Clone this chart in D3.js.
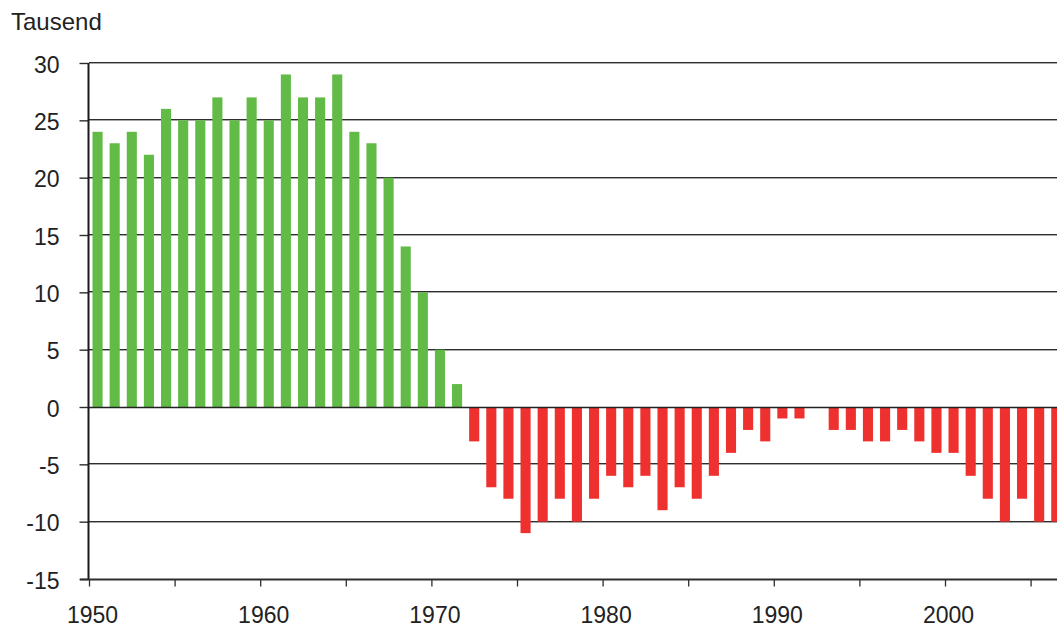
<!DOCTYPE html>
<html>
<head>
<meta charset="utf-8">
<script src="https://cdnjs.cloudflare.com/ajax/libs/d3/7.8.5/d3.min.js"></script>
<style>
  html, body { margin: 0; padding: 0; background: #fff; }
  svg { display: block; font-family: "Liberation Sans", Arial, sans-serif; }
  .tick text { font-size: 23px; fill: #222; }
</style>
</head>
<body>
<div id="chart"></div>
<script>
// data (Tausend), one value per year 1950 - 2006
const years = d3.range(1950, 2007);
const values = [
  24, 23, 24, 22, 26, 25, 25, 27, 25, 27,
  25, 29, 27, 27, 29, 24, 23, 20, 14, 10,
  5, 2, -3, -7, -8, -11, -10, -8, -10, -8,
  -6, -7, -6, -9, -7, -8, -6, -4, -2, -3,
  -1, -1, 0, -2, -2, -3, -3, -2, -3, -4,
  -4, -6, -8, -10, -8, -10, -10
];
const yTicks = [-15, -10, -5, 0, 5, 10, 15, 20, 25, 30];
const xTicks = d3.range(1950, 2006, 5);
const xLabels = [1950, 1960, 1970, 1980, 1990, 2000];
const unitLabel = 'Tausend';

const data = years.map((year, i) => ({ year, value: values[i] }));

// dimension stuff
const width = 1057;
const height = 628;
const plotLeft = 89;
const plotTop = 63;
const plotBottom = 579;
const yearStep = 17.12;

const colorPos = '#62bb47';
const colorNeg = '#ee312e';

const $svg = d3.select('#chart').append('svg')
  .attr('width', width)
  .attr('height', height);

// scales
const scaleX = d3.scaleBand()
  .domain(years)
  .range([plotLeft, plotLeft + years.length * yearStep])
  .paddingInner(0.41)
  .paddingOuter(0.205);

const scaleXTick = d3.scaleLinear()
  .domain([1950, 1950 + years.length])
  .range([plotLeft, plotLeft + years.length * yearStep]);

const scaleY = d3.scaleLinear()
  .domain([-15, 30])
  .range([plotBottom, plotTop]);

// gridlines (dark line with a grey edge below)
const gridTicks = yTicks.filter(d => d !== -15 && d !== 0);
const $grid = $svg.append('g').attr('class', 'g-grid');
$grid.selectAll('line.dark')
  .data(gridTicks)
  .join('line')
  .attr('class', 'dark')
  .attr('x1', plotLeft).attr('x2', width)
  .attr('y1', d => Math.round(scaleY(d)) - 0.5)
  .attr('y2', d => Math.round(scaleY(d)) - 0.5)
  .attr('stroke', '#2e2e2e');
$grid.selectAll('line.light')
  .data(gridTicks)
  .join('line')
  .attr('class', 'light')
  .attr('x1', plotLeft).attr('x2', width)
  .attr('y1', d => Math.round(scaleY(d)) + 0.5)
  .attr('y2', d => Math.round(scaleY(d)) + 0.5)
  .attr('stroke', '#a8a8a8');

// bars
$svg.append('g')
  .attr('class', 'g-bars')
  .selectAll('rect')
  .data(data.filter(d => d.value !== 0))
  .join('rect')
  .attr('x', d => scaleX(d.year))
  .attr('width', scaleX.bandwidth())
  .attr('y', d => scaleY(Math.max(0, d.value)))
  .attr('height', d => Math.abs(scaleY(d.value) - scaleY(0)))
  .attr('fill', d => d.value > 0 ? colorPos : colorNeg);

// zero line on top of bars
$svg.append('line')
  .attr('x1', plotLeft).attr('x2', width)
  .attr('y1', Math.round(scaleY(0)) + 0.5)
  .attr('y2', Math.round(scaleY(0)) + 0.5)
  .attr('stroke', '#222')
  .attr('stroke-width', 1.6);

// y axis (plain hyphen for negatives, like the original)
const $yAxis = $svg.append('g')
  .attr('class', 'g-axis-y')
  .attr('transform', `translate(${plotLeft - 0.5},0)`)
  .call(d3.axisLeft(scaleY)
    .tickValues(yTicks)
    .tickSize(9)
    .tickPadding(20)
    .tickFormat(d => String(d)));
$yAxis.select('.domain').remove();
$yAxis.selectAll('.tick line').attr('stroke', '#2e2e2e').attr('stroke-width', 1.4);
$yAxis.selectAll('.tick text').attr('dy', '0.4em');

$svg.append('line')
  .attr('x1', plotLeft - 0.5).attr('x2', plotLeft - 0.5)
  .attr('y1', plotTop).attr('y2', plotBottom)
  .attr('stroke', '#1a1a1a')
  .attr('stroke-width', 2);

// x axis
const $xAxis = $svg.append('g')
  .attr('class', 'g-axis-x')
  .attr('transform', `translate(0,${plotBottom + 0.5})`)
  .call(d3.axisBottom(scaleXTick)
    .tickValues(xTicks)
    .tickSize(7)
    .tickPadding(20)
    .tickFormat(d => xLabels.includes(d) ? d : ''));
$xAxis.select('.domain').remove();
$xAxis.selectAll('.tick line').attr('stroke', '#2e2e2e').attr('stroke-width', 1.3);
$xAxis.selectAll('.tick text').attr('dx', 3);

$svg.append('line')
  .attr('x1', plotLeft - 9).attr('x2', width)
  .attr('y1', plotBottom + 0.5).attr('y2', plotBottom + 0.5)
  .attr('stroke', '#2e2e2e')
  .attr('stroke-width', 1.8);

// unit label
$svg.append('text')
  .attr('x', 11)
  .attr('y', 30)
  .attr('font-size', 24)
  .attr('fill', '#222')
  .text(unitLabel);
</script>
</body>
</html>
